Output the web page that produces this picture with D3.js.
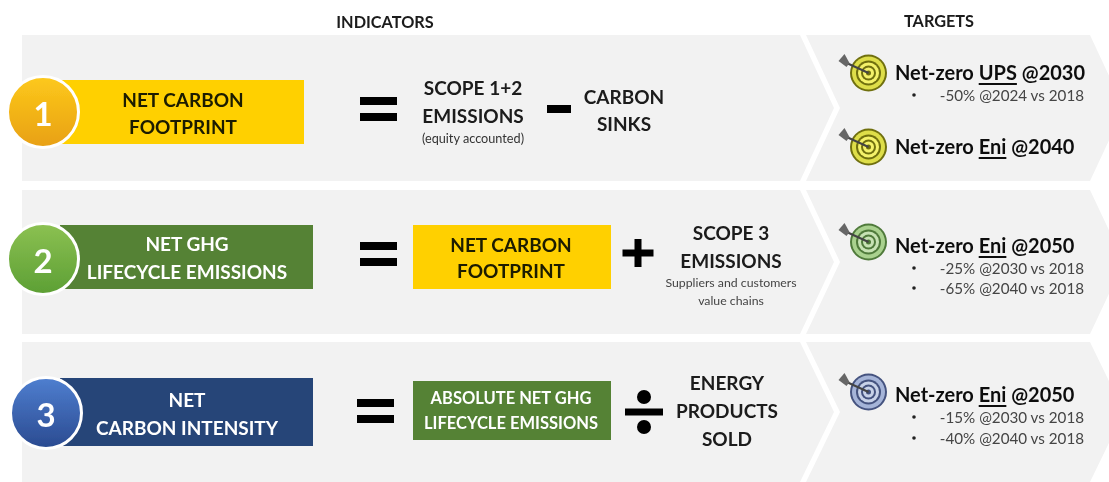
<!DOCTYPE html>
<html><head><meta charset="utf-8">
<script src="https://cdn.jsdelivr.net/npm/d3@7"></script>
<style>
html,body{margin:0;padding:0;background:#fff}
svg{display:block}
text{font-family:Lato,"Open Sans",sans-serif}
</style></head><body>
<svg id="c" width="1109" height="482"></svg>
<script>
// ---- content ----
const headers = ["INDICATORS", "TARGETS"];
const rowIds = [1, 2, 3];
const indicatorLabels = [["NET CARBON", "FOOTPRINT"], ["NET GHG", "LIFECYCLE EMISSIONS"], ["NET", "CARBON INTENSITY"]];
const equationBoxes = [null, ["NET CARBON", "FOOTPRINT"], ["ABSOLUTE NET GHG", "LIFECYCLE EMISSIONS"]];
const operators = ["minus", "plus", "divide"];
const firstTerm = [["SCOPE 1+2", "EMISSIONS"], null, null];
const firstTermNote = [["(equity accounted)"], null, null];
const lastTerm = [["CARBON", "SINKS"], ["SCOPE 3", "EMISSIONS"], ["ENERGY", "PRODUCTS", "SOLD"]];
const lastTermNote = [null, ["Suppliers and customers", "value chains"], null];
const targetEntities = [["UPS", "Eni"], ["Eni"], ["Eni"]];
const targetYears = [[2030, 2040], [2050], [2050]];
const targetSteps = [[["-50% @2024 vs 2018"], []], [["-25% @2030 vs 2018", "-65% @2040 vs 2018"]], [["-15% @2030 vs 2018", "-40% @2040 vs 2018"]]];

// ---- layout ----
const L = {
  top: [35, 190, 342], bottom: [181, 334, 482],
  circleX: [43, 43, 46], circleY: [112, 259, 413],
  barX0: [60, 60, 60], barX1: [304, 313, 313], barY0: [80, 225, 378], barY1: [144, 289, 446],
  barTextX: [183, 187, 187], barTextY: [[99, 126], [243, 271], [399, 427]],
  eqX: [360, 360, 357], eqY: [97, 242, 399],
  boxY0: [0, 225, 381], boxY1: [0, 289, 440], boxTextY: [[], [244, 270], [398, 423]],
  firstX: [473], firstY: [[87, 115]], firstNoteY: [[138]],
  lastX: [624, 731, 727], lastY: [[96, 123], [232, 260], [382, 410, 438]],
  lastNoteY: [[], [282, 300], []],
  opX: [559, 638, 644], opY: [109, 253, 412],
  targetY: [[72, 146], [245], [394]],
  iconY: [[73, 147], [242], [392]],
  stepY: [[[95], []], [[268, 288]], [[417, 438]]]
};
const C = {
  panel: "#f2f2f2",
  circle: [["#fdc91c", "#e8a012"], ["#8cc152", "#5c9f34"], ["#4f7fd0", "#2a4a90"]],
  bar: ["#ffd000", "#548235", "#264478"],
  barText: ["#1a1a00", "#ffffff", "#ffffff"],
  box: [null, "#ffd000", "#548235"],
  boxText: [null, "#1a1a00", "#ffffff"],
  icon: [["#dede48", "#6f6f10", "#f4f26a"], ["#a9d18e", "#4f7a3a", "#c7e2b4"], ["#a5b4d8", "#44527f", "#c8d2e8"]]
};

const svg = d3.select("#c");
const defs = svg.append("defs");
defs.append("filter").attr("id", "soft").attr("x", 0).attr("y", 0).attr("width", 1).attr("height", 1)
  .append("feGaussianBlur").attr("stdDeviation", 0.5);
C.circle.forEach((c, i) => {
  const g = defs.append("linearGradient").attr("id", "g" + i).attr("x1", 0).attr("y1", 0).attr("x2", 0).attr("y2", 1);
  g.append("stop").attr("offset", 0).attr("stop-color", c[0]);
  g.append("stop").attr("offset", 1).attr("stop-color", c[1]);
});
const root = svg.append("g").attr("filter", "url(#soft)");
root.append("rect").attr("width", 1109).attr("height", 482).attr("fill", "#fff");

function lines(g, arr, x, ys, size, fill, weight) {
  g.selectAll(null).data(arr).join("text")
    .attr("x", x).attr("y", (d, i) => ys[i]).attr("text-anchor", "middle")
    .attr("dominant-baseline", "central").attr("font-size", size)
    .attr("font-weight", weight).attr("fill", fill).text(d => d);
}

// headers
lines(root, [headers[0]], 385, [21], 16.3, "#1a1a1a", 700);
lines(root, [headers[1]], 939, [20], 16.3, "#1a1a1a", 700);

const line = d3.line();
const rows = root.selectAll("g.row").data(rowIds).join("g").attr("class", "row");
rows.each(function (id, i) {
  const g = d3.select(this);
  const t = L.top[i], b = L.bottom[i], m = (t + b) / 2;
  // chevrons
  g.append("path").attr("fill", C.panel).attr("d", line([[22, t], [800, t], [834, m], [800, b], [22, b]]) + "Z");
  g.append("path").attr("fill", C.panel).attr("d", line([[806, t], [1090, t], [1124, m], [1090, b], [806, b], [840, m]]) + "Z");
  // indicator bar
  g.append("rect").attr("x", L.barX0[i]).attr("y", L.barY0[i]).attr("width", L.barX1[i] - L.barX0[i])
    .attr("height", L.barY1[i] - L.barY0[i]).attr("fill", C.bar[i]);
  lines(g, indicatorLabels[i], L.barTextX[i], L.barTextY[i], 19, C.barText[i], 700);
  // number circle
  g.append("circle").attr("cx", L.circleX[i]).attr("cy", L.circleY[i]).attr("r", 35.5)
    .attr("fill", `url(#g${i})`).attr("stroke", "#fff").attr("stroke-width", 3);
  lines(g, [id], L.circleX[i], [L.circleY[i] + 1], 33, "#fff", 700);
  // equals
  [0, 16].forEach(dy => g.append("rect").attr("x", L.eqX[i]).attr("y", L.eqY[i] + dy)
    .attr("width", 37).attr("height", 8).attr("fill", "#000"));
  // second box
  if (equationBoxes[i]) {
    g.append("rect").attr("x", 413).attr("y", L.boxY0[i]).attr("width", 198)
      .attr("height", L.boxY1[i] - L.boxY0[i]).attr("fill", C.box[i]);
    lines(g, equationBoxes[i], 511, L.boxTextY[i], i === 1 ? 19 : 16.5, C.boxText[i], 700);
  }
  if (firstTerm[i]) {
    lines(g, firstTerm[i], L.firstX[i], L.firstY[i], 19, "#1a1a1a", 700);
    lines(g, firstTermNote[i], L.firstX[i], L.firstNoteY[i], 12.7, "#333", 400);
  }
  lines(g, lastTerm[i], L.lastX[i], L.lastY[i], 19, "#1a1a1a", 700);
  if (lastTermNote[i]) lines(g, lastTermNote[i], L.lastX[i], L.lastNoteY[i], 12.3, "#444", 400);
  // operator
  const ox = L.opX[i], oy = L.opY[i];
  if (operators[i] === "minus") g.append("rect").attr("x", ox - 12).attr("y", oy - 4).attr("width", 24).attr("height", 8);
  if (operators[i] === "plus") {
    g.append("rect").attr("x", ox - 15.5).attr("y", oy - 3.5).attr("width", 31).attr("height", 7);
    g.append("rect").attr("x", ox - 3.5).attr("y", oy - 14).attr("width", 7).attr("height", 28);
  }
  if (operators[i] === "divide") {
    g.append("rect").attr("x", ox - 19).attr("y", oy - 3.5).attr("width", 38).attr("height", 7);
    [-15, 15].forEach(dy => g.append("circle").attr("cx", ox).attr("cy", oy + dy).attr("r", 7));
  }
  // targets
  targetEntities[i].forEach((ent, j) => {
    const cy = L.iconY[i][j], cx = 868.5, col = C.icon[i];
    [[18.5, col[1]], [16.5, col[0]], [12.5, col[1]], [10.5, col[2]], [7.5, col[1]], [5.5, col[2]], [2.5, col[1]]]
      .forEach(r => g.append("circle").attr("cx", cx).attr("cy", cy).attr("r", r[0]).attr("fill", r[1]));
    g.append("path").attr("d", line([[cx, cy], [cx - 24, cy - 11]])).attr("stroke", "#444").attr("stroke-width", 2).attr("fill", "none");
    g.append("path").attr("d", line([[cx - 24, cy - 19], [cx - 19, cy - 10], [cx - 22, cy - 6], [cx - 30, cy - 12]]) + "Z").attr("fill", "#666");
    const tx = g.append("text").attr("x", 895).attr("y", L.targetY[i][j]).attr("dominant-baseline", "central")
      .attr("font-size", 20).attr("font-weight", 700).attr("fill", "#111");
    tx.append("tspan").text("Net-zero ");
    tx.append("tspan").attr("text-decoration", "underline").text(ent);
    tx.append("tspan").text(" @" + targetYears[i][j]);
    targetSteps[i][j].forEach((s, k) => {
      const y = L.stepY[i][j][k];
      g.append("circle").attr("cx", 914).attr("cy", y).attr("r", 1.8).attr("fill", "#222");
      g.append("text").attr("x", 1084).attr("y", y).attr("text-anchor", "end").attr("dominant-baseline", "central")
        .attr("font-size", 15.2).attr("fill", "#444").text(s);
    });
  });
});
</script></body></html>
